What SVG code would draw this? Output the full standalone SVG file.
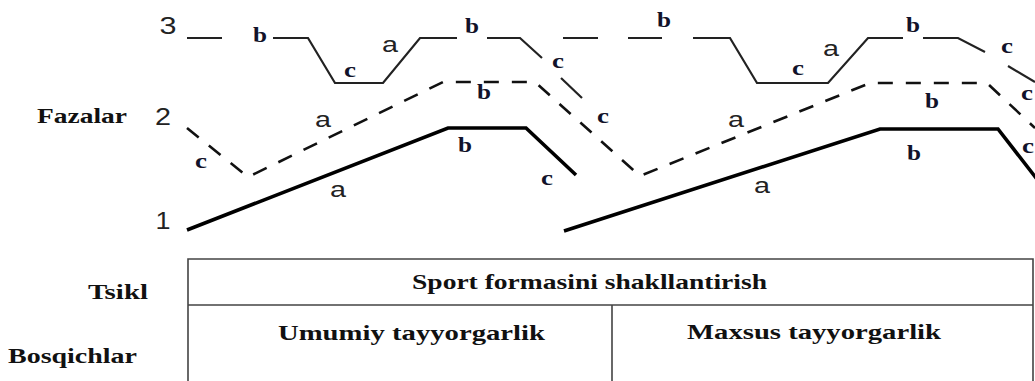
<svg xmlns="http://www.w3.org/2000/svg" width="1035" height="381" viewBox="0 0 1035 381">
<style>
.l3{fill:none;stroke:#222;stroke-width:2.2;stroke-linejoin:miter}
.l2{fill:none;stroke:#111;stroke-width:2.6;stroke-dasharray:15 13}
.l1{fill:none;stroke:#000;stroke-width:3.6}
.tb{fill:none;stroke:#444;stroke-width:1.6}
.sa{font-family:"Liberation Sans",Arial,sans-serif;font-size:22px;fill:#222;text-anchor:middle}
.dg{font-family:"Liberation Sans",Arial,sans-serif;font-size:24px;fill:#222;text-anchor:middle}
.lb{font-family:"Liberation Serif","Times New Roman",serif;font-weight:bold;font-size:20px;fill:#12122a;text-anchor:middle}
.hd{font-family:"Liberation Serif","Times New Roman",serif;font-weight:bold;font-size:21px;fill:#111}
</style>
<rect width="1035" height="381" fill="#fff"/>
<g id="line3">
<path class="l3" d="M187 38H222"/>
<path class="l3" d="M273 38H308L335 83H383L420 38H457"/>
<path class="l3" d="M487 38H520L542 58"/>
<path class="l3" d="M561 78L582 98"/>
<path class="l3" d="M563 38H598M628 38H662"/>
<path class="l3" d="M693 38H730L757 83H828L868 38H903"/>
<path class="l3" d="M923 38H958L985 52"/>
<path class="l3" d="M1008 66L1035 82"/>
</g>
<g id="line2">
<path class="l2" d="M187 128L248 177L443 82H535L640 176L870 83H987L1035 128"/>
</g>
<g id="line1">
<path class="l1" d="M187 230L448 128H526L576 175"/>
<path class="l1" d="M564 231L880 129H998L1040 183"/>
</g>
<g id="numbers">
<text class="dg" x="168" y="34" textLength="17" lengthAdjust="spacingAndGlyphs">3</text>
<text class="dg" x="163" y="125" textLength="16" lengthAdjust="spacingAndGlyphs">2</text>
<text class="dg" x="163" y="229" textLength="15" lengthAdjust="spacingAndGlyphs">1</text>
</g>
<g id="phase-labels">
<text class="lb" x="260" y="42" textLength="14" lengthAdjust="spacingAndGlyphs">b</text>
<text class="lb" x="350" y="77" textLength="12" lengthAdjust="spacingAndGlyphs">c</text>
<text class="sa" x="390" y="52" textLength="16" lengthAdjust="spacingAndGlyphs">a</text>
<text class="lb" x="472" y="33" textLength="14" lengthAdjust="spacingAndGlyphs">b</text>
<text class="lb" x="558" y="68" textLength="12" lengthAdjust="spacingAndGlyphs">c</text>
<text class="lb" x="664" y="27" textLength="14" lengthAdjust="spacingAndGlyphs">b</text>
<text class="lb" x="798" y="75" textLength="12" lengthAdjust="spacingAndGlyphs">c</text>
<text class="sa" x="831" y="56" textLength="16" lengthAdjust="spacingAndGlyphs">a</text>
<text class="lb" x="913" y="32" textLength="14" lengthAdjust="spacingAndGlyphs">b</text>
<text class="lb" x="1007" y="53" textLength="12" lengthAdjust="spacingAndGlyphs">c</text>
<text class="lb" x="201" y="168" textLength="12" lengthAdjust="spacingAndGlyphs">c</text>
<text class="sa" x="323" y="127" textLength="16" lengthAdjust="spacingAndGlyphs">a</text>
<text class="lb" x="484" y="99" textLength="14" lengthAdjust="spacingAndGlyphs">b</text>
<text class="lb" x="603" y="123" textLength="12" lengthAdjust="spacingAndGlyphs">c</text>
<text class="sa" x="736" y="127" textLength="16" lengthAdjust="spacingAndGlyphs">a</text>
<text class="lb" x="932" y="108" textLength="14" lengthAdjust="spacingAndGlyphs">b</text>
<text class="lb" x="1027" y="100" textLength="12" lengthAdjust="spacingAndGlyphs">c</text>
<text class="sa" x="338" y="197" textLength="16" lengthAdjust="spacingAndGlyphs">a</text>
<text class="lb" x="465" y="152" textLength="14" lengthAdjust="spacingAndGlyphs">b</text>
<text class="lb" x="547" y="185" textLength="12" lengthAdjust="spacingAndGlyphs">c</text>
<text class="sa" x="762" y="193" textLength="16" lengthAdjust="spacingAndGlyphs">a</text>
<text class="lb" x="914" y="160" textLength="14" lengthAdjust="spacingAndGlyphs">b</text>
<text class="lb" x="1028" y="153" textLength="12" lengthAdjust="spacingAndGlyphs">c</text>
</g>
<g id="row-labels">
<text class="hd" x="37" y="123" textLength="90" lengthAdjust="spacingAndGlyphs">Fazalar</text>
<text class="hd" x="88" y="299" textLength="60" lengthAdjust="spacingAndGlyphs">Tsikl</text>
<text class="hd" x="8" y="363" textLength="129" lengthAdjust="spacingAndGlyphs">Bosqichlar</text>
</g>
<g id="table">
<path class="tb" d="M188 385V259H1033V385M188 305H1033M612 305V385"/>
<text class="hd" x="412" y="289" textLength="355" lengthAdjust="spacingAndGlyphs">Sport formasini shakllantirish</text>
<text class="hd" x="278" y="340" textLength="267" lengthAdjust="spacingAndGlyphs">Umumiy tayyorgarlik</text>
<text class="hd" x="687" y="339" textLength="254" lengthAdjust="spacingAndGlyphs">Maxsus tayyorgarlik</text>
</g>
</svg>
